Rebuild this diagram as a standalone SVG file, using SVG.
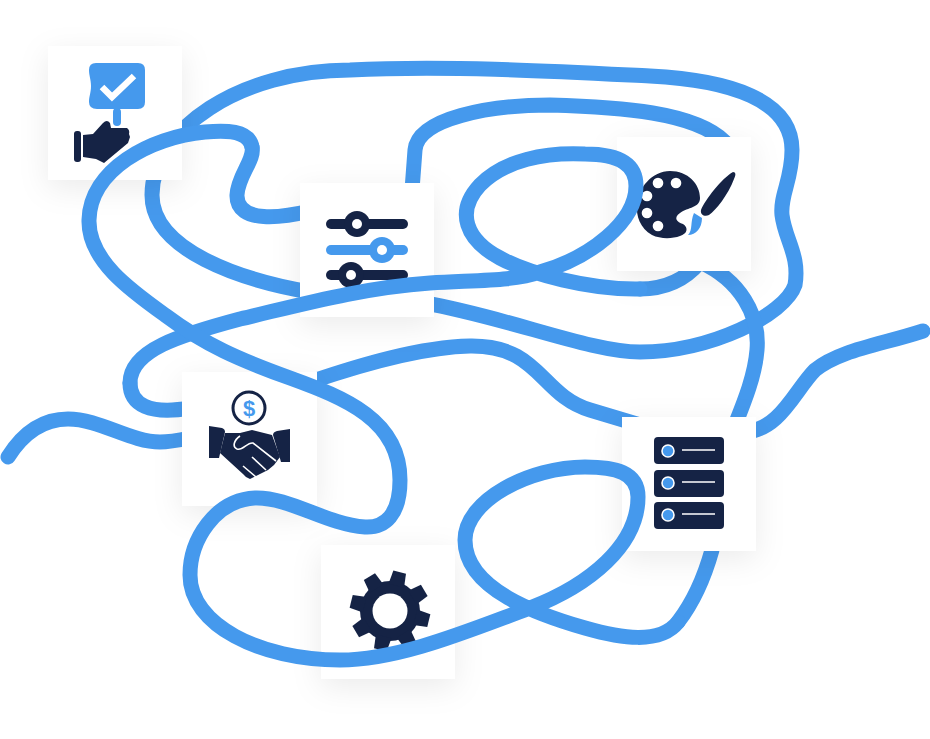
<svg xmlns="http://www.w3.org/2000/svg" xmlns:xlink="http://www.w3.org/1999/xlink" width="930" height="739" viewBox="0 0 930 739">
<style>
.l{fill:none;stroke:#4599ed;stroke-width:15;stroke-linecap:round;stroke-linejoin:round}
.c{fill:#fff;filter:url(#s)}
.n{fill:#152345}
.b{fill:#4599ed}
.w{fill:#fff}
</style>
<defs>
<filter id="s" x="-30%" y="-30%" width="160%" height="170%"><feDropShadow dx="0" dy="8" stdDeviation="15" flood-color="#000" flood-opacity="0.08"/></filter>
<polygon id="t" points="-8,-26 -6.5,-40 6.5,-40 8,-26"/>
</defs>
<rect width="930" height="739" fill="#fff"/>
<g id="connectors-behind">
<path class="l" d="M8 457 C25 430 45 419 68 419 C100 419 130 442 160 442 C170 442 180 440 190 438"/>
<path class="l" d="M190 408 C150 415 130 405 130 383"/>
<path class="l" d="M640 289 C665 289 685 280 700 262"/>
<path class="l" d="M310 211 C285 217 236 225 237 195 C238 175 255 160 252 147"/>
<path class="l" d="M678 622 C695 600 705 575 712 550"/>
<path class="l" d="M310 292 C240 280 152 250 152 195 C152 130 240 70 350 70 C450 65 570 72 650 76 C730 80 792 100 792 150 C792 180 780 195 782 215 C785 240 800 255 795 285 C785 315 710 352 640 352 C590 352 510 318 425 303"/>
<path class="l" d="M725 142 C695 112 620 107 550 105 C490 105 418 118 415 150 C414 165 413 178 412 190"/>
<path class="l" d="M700 262 C740 280 760 315 757 350 C755 375 745 400 735 425"/>
<path class="l" d="M310 382 C360 365 420 347 470 346 C540 345 540 395 590 410 L640 425"/>
<path class="l" d="M745 432 C780 430 795 390 815 370 C840 350 880 345 923 331"/>
</g>
<g id="node-check">
<rect class="c" x="48" y="46" width="134" height="134"/>
<path class="b" d="M96 63 H138 Q145 63 145 70 V102 Q145 109 138 109 H97 Q89 109 89 102 C89 96 91 93 91 86 C91 79 89 76 89 70 Q89 63 96 63Z"/>
<rect class="b" x="113" y="108" width="8" height="18" rx="4"/>
<polyline points="102,87 112,97 134,76" fill="none" stroke="#fff" stroke-width="6.5"/>
<rect class="n" x="74" y="131" width="7" height="31" rx="3"/>
<path class="n" d="M83 135 L93 134 L103 123 Q107 119 110 123 L111 128 L127 128 Q130 130 129 134 L130 137 L128 143 L104 163 L96 159 L83 157Z"/>
</g>
<g id="node-sliders">
<rect class="c" x="300" y="183" width="134" height="134"/>
<rect class="n" x="326" y="219" width="82" height="10" rx="5"/>
<circle class="n" cx="357" cy="224" r="13"/><circle class="w" cx="357" cy="224" r="5"/>
<rect class="b" x="326" y="245" width="82" height="10" rx="5"/>
<circle class="b" cx="382" cy="250" r="13"/><circle class="w" cx="382" cy="250" r="5"/>
<rect class="n" x="326" y="270" width="82" height="10" rx="5"/>
<circle class="n" cx="351" cy="275" r="13"/><circle class="w" cx="351" cy="275" r="5"/>
</g>
<g id="node-palette">
<rect class="c" x="617" y="137" width="134" height="134"/>
<path class="n" d="M670 171 C688 171 700 184 700 198 C700 208 688 207 680 213 C673 218 677 222 683 224 C689 228 687 234 680 236 C672 239 660 239 652 235 C640 228 636 216 637 205 C638 188 652 171 670 171Z"/>
<circle class="w" cx="658" cy="183" r="5.3"/><circle class="w" cx="676" cy="183" r="5.3"/><circle class="w" cx="647" cy="196" r="5.3"/><circle class="w" cx="647" cy="213" r="5.3"/><circle class="w" cx="658" cy="226" r="5.3"/>
<path class="n" d="M733 172 C736 172 736 175 734 179 C728 195 716 210 709 215 C705 217 700 215 701 210 C705 200 722 178 733 172Z"/>
<path class="b" d="M694 213 L702 218 C702 228 696 235 688 235 C693 230 690 222 694 213Z"/>
</g>
<g id="node-handshake">
<rect class="c" x="182" y="372" width="135" height="134"/>
<circle cx="249" cy="408" r="16" fill="#fff" stroke="#152345" stroke-width="3"/>
<text x="249" y="416" text-anchor="middle" font-family="Liberation Sans, sans-serif" font-weight="700" font-size="22" fill="#4599ed">$</text>
<path class="n" d="M209 426 L222 428 Q225 429 225 432 L219 458 L209 458Z"/>
<path class="n" d="M290 429 L277 431 Q273 432 273 435 L281 462 L290 462Z"/>
<path class="n" d="M225 433 H240 L252 430 L272 435 L280 457 L274 465 L268 470 L260 474 L250 479 Q246 478 243 474 L220 453Z"/>
<path d="M240 436 C234 440 232 447 237 449 C243 451 247 442 253 443 L276 461 M252 457 L266 470 M243 466 L256 477" fill="none" stroke="#fff" stroke-width="1.6"/>
</g>
<g id="node-server">
<rect class="c" x="622" y="417" width="134" height="134"/>
<rect class="n" x="654" y="437" width="70" height="27" rx="4"/>
<rect class="n" x="654" y="470" width="70" height="27" rx="4"/>
<rect class="n" x="654" y="502" width="70" height="27" rx="4"/>
<g fill="#4599ed" stroke="#fff" stroke-width="1.6"><circle cx="668" cy="451" r="6"/><circle cx="668" cy="483" r="6"/><circle cx="668" cy="515" r="6"/></g>
<path d="M682 450 H715 M682 482 H715 M682 514 H715" stroke="#fff" stroke-width="1.5" fill="none"/>
</g>
<g id="node-gear">
<rect class="c" x="321" y="545" width="134" height="134"/>
<g class="n" transform="translate(390 611)">
<circle r="30"/>
<use xlink:href="#t" href="#t" transform="rotate(14)"/><use xlink:href="#t" href="#t" transform="rotate(59)"/><use xlink:href="#t" href="#t" transform="rotate(104)"/><use xlink:href="#t" href="#t" transform="rotate(149)"/><use xlink:href="#t" href="#t" transform="rotate(194)"/><use xlink:href="#t" href="#t" transform="rotate(239)"/><use xlink:href="#t" href="#t" transform="rotate(284)"/><use xlink:href="#t" href="#t" transform="rotate(329)"/>
<circle class="w" r="17.5"/>
</g>
</g>
<g id="connectors-over">
<path class="l" d="M130 383 C130 350 180 335 240 319 C300 305 360 288 430 283 C480 280 515 281 540 272 C590 258 636 222 636 186 C636 165 620 154 585 154 C545 152 505 160 480 185 C455 212 466 240 500 258 C530 274 590 290 640 289"/>
<path class="l" d="M252 147 C249 130 225 130 205 132 C150 137 90 170 89 220 C88 260 130 290 165 315 C205 345 240 360 290 378 C345 398 400 420 400 480 C400 515 385 528 365 527 C325 524 290 497 255 498 C215 500 190 540 190 575 C190 625 260 660 340 660 C400 660 470 630 530 608 C590 585 638 545 638 497 C638 472 615 467 585 467 C530 467 465 500 465 540 C465 590 540 615 585 628 C620 638 660 645 678 622"/>
</g>
</svg>
